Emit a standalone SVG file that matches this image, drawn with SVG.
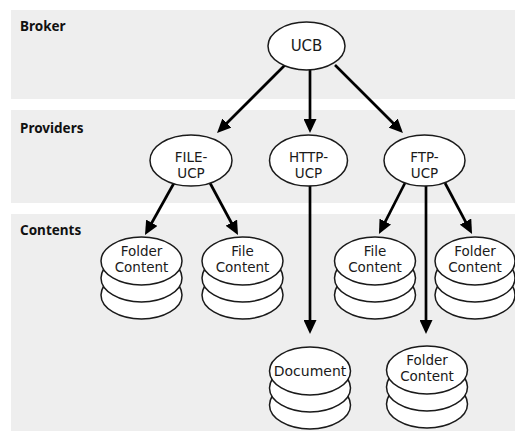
<svg xmlns="http://www.w3.org/2000/svg" width="515" height="433" viewBox="0 0 515 433">
<style>
.band{fill:#eeeeee}
.blabel{font-family:"Noto Sans","Open Sans",sans-serif;font-weight:bold;font-size:13.5px;fill:#111}
.node ellipse{fill:#fff;stroke:#1a1a1a;stroke-width:1.5}
.node text{font-family:"DejaVu Sans","Noto Sans",sans-serif;font-size:13.5px;fill:#1a1a1a;text-anchor:middle}
.conn line{stroke:#000;stroke-width:2.7;fill:none;marker-end:url(#ah)}
</style>
<defs>
<marker id="ah" viewBox="0 0 14 13" refX="6" refY="6.5" markerWidth="14" markerHeight="13" markerUnits="userSpaceOnUse" orient="auto">
<path d="M0,0 L14,6.5 L0,13 z" fill="#000"/>
</marker>
</defs>
<rect width="515" height="433" fill="#fff"/>
<g id="bands">
<rect class="band" x="11" y="10" width="504" height="89"/>
<rect class="band" x="11" y="110" width="504" height="93"/>
<rect class="band" x="11" y="214" width="504" height="217"/>
<text class="blabel" x="20" y="31">Broker</text>
<text class="blabel" x="20" y="133">Providers</text>
<text class="blabel" x="20" y="235">Contents</text>
</g>
<g id="connectors" class="conn">
<line x1="285" y1="65" x2="222.7" y2="127.3"/>
<line x1="310" y1="70" x2="310" y2="125"/>
<line x1="335" y1="65" x2="397.3" y2="127.3"/>
<line x1="174" y1="183" x2="148.9" y2="228"/>
<line x1="210" y1="183" x2="234.2" y2="228"/>
<line x1="310" y1="185" x2="310" y2="326"/>
<line x1="405" y1="183" x2="382.6" y2="226.9"/>
<line x1="426" y1="186" x2="426" y2="326"/>
<line x1="445" y1="183" x2="468.3" y2="226.9"/>
</g>
<g id="ucb" class="node">
<ellipse cx="306.5" cy="46" rx="38.5" ry="24"/>
<text x="306.5" y="51" style="font-size:15px">UCB</text>
</g>
<g id="file-ucp" class="node">
<ellipse cx="191" cy="160.5" rx="41" ry="25.5"/>
<text x="191" y="161.5">FILE-<tspan x="191" dy="16">UCP</tspan></text>
</g>
<g id="http-ucp" class="node">
<ellipse cx="308.5" cy="160.5" rx="39" ry="25.5"/>
<text x="308.5" y="161.5">HTTP-<tspan x="308.5" dy="16">UCP</tspan></text>
</g>
<g id="ftp-ucp" class="node">
<ellipse cx="424.5" cy="160.5" rx="40.5" ry="25.5"/>
<text x="424.5" y="161.5">FTP-<tspan x="424.5" dy="16">UCP</tspan></text>
</g>
<g id="folder-content-1" class="node">
<ellipse cx="141.5" cy="295" rx="40.5" ry="24"/>
<ellipse cx="141.5" cy="278" rx="40.5" ry="24"/>
<ellipse cx="141.5" cy="261" rx="40.5" ry="24"/>
<text x="141.5" y="256">Folder<tspan x="141.5" dy="16">Content</tspan></text>
</g>
<g id="file-content-1" class="node">
<ellipse cx="242.5" cy="295" rx="40.5" ry="24"/>
<ellipse cx="242.5" cy="278" rx="40.5" ry="24"/>
<ellipse cx="242.5" cy="261" rx="40.5" ry="24"/>
<text x="242.5" y="256">File<tspan x="242.5" dy="16">Content</tspan></text>
</g>
<g id="file-content-2" class="node">
<ellipse cx="375" cy="295" rx="40.5" ry="24"/>
<ellipse cx="375" cy="278" rx="40.5" ry="24"/>
<ellipse cx="375" cy="261" rx="40.5" ry="24"/>
<text x="375" y="256">File<tspan x="375" dy="16">Content</tspan></text>
</g>
<g id="folder-content-2" class="node">
<ellipse cx="475" cy="295" rx="40" ry="24"/>
<ellipse cx="475" cy="278" rx="40" ry="24"/>
<ellipse cx="475" cy="261" rx="40" ry="24"/>
<text x="475" y="256">Folder<tspan x="475" dy="16">Content</tspan></text>
</g>
<g id="document" class="node">
<ellipse cx="310" cy="405" rx="40.5" ry="24"/>
<ellipse cx="310" cy="388" rx="40.5" ry="24"/>
<ellipse cx="310" cy="371" rx="40.5" ry="24"/>
<text x="310" y="376" style="font-size:14px">Document</text>
</g>
<g id="folder-content-3" class="node">
<ellipse cx="427" cy="404" rx="40.5" ry="24"/>
<ellipse cx="427" cy="387" rx="40.5" ry="24"/>
<ellipse cx="427" cy="370" rx="40.5" ry="24"/>
<text x="427" y="365">Folder<tspan x="427" dy="16">Content</tspan></text>
</g>
</svg>
